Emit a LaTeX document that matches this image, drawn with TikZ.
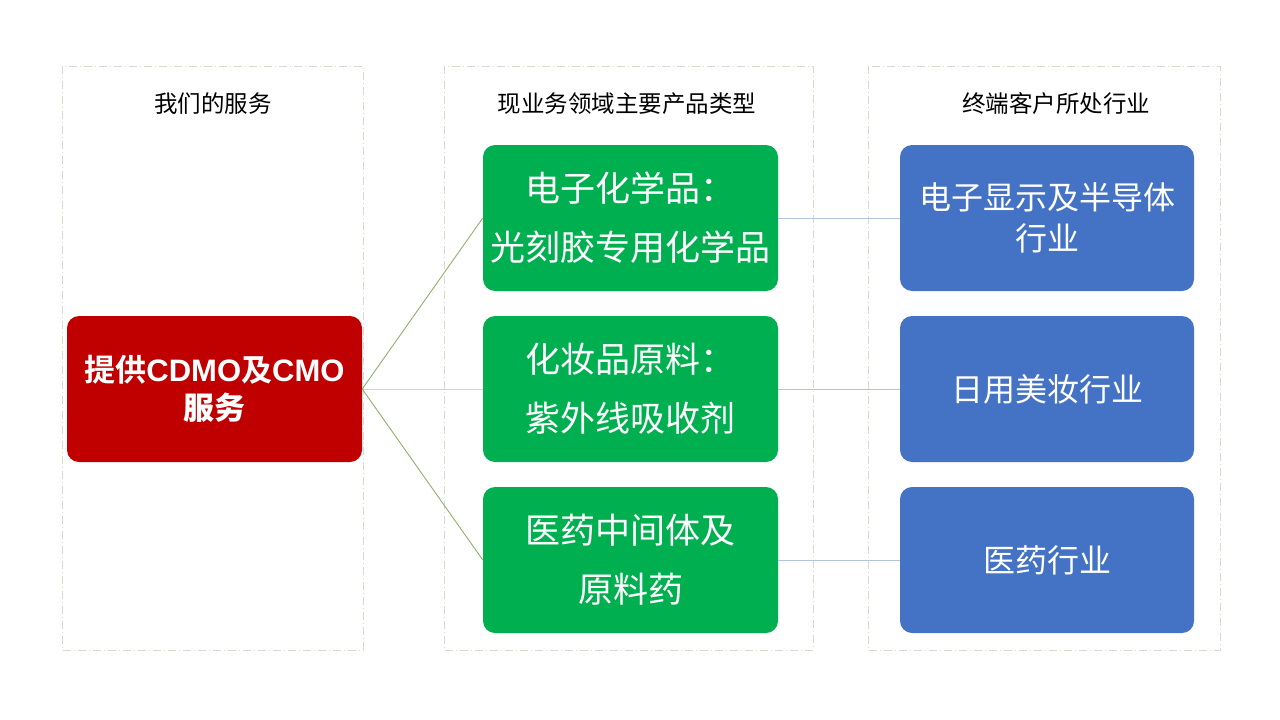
\documentclass[tikz,border=0pt]{standalone}
\usepackage{fontspec}
\setmainfont{Noto Sans CJK SC}
\newfontfamily\cjkbold{Noto Sans CJK SC}[BoldFont={* Bold}]
\newfontfamily\latinb{Liberation Sans}
\definecolor{framec}{HTML}{D5DCC9}
\definecolor{redc}{HTML}{C00000}
\definecolor{greenc}{HTML}{00B050}
\definecolor{bluec}{HTML}{4472C4}
\definecolor{gline}{HTML}{8FB06A}
\definecolor{gpale}{HTML}{C6DEB2}
\definecolor{bline}{HTML}{B4C3E0}
\tikzset{
  frame/.style={draw=framec, line width=0.8pt, dash pattern=on 8pt off 3pt on 1pt off 3pt},
  header/.style={font=\fontsize{23.5}{28}\selectfont, text=black},
  redbox/.style={fill=redc, rounded corners=12pt, minimum width=295pt, minimum height=146pt, inner sep=0pt, text=white, align=center, font=\fontsize{31}{38}\selectfont\bfseries},
  greenbox/.style={fill=greenc, rounded corners=12pt, minimum width=295pt, minimum height=146pt, inner sep=0pt, text=white, align=center, font=\fontsize{35}{59}\selectfont},
  bluebox/.style={fill=bluec, rounded corners=12pt, minimum width=294pt, minimum height=146pt, inner sep=0pt, text=white, align=center, font=\fontsize{32}{41}\selectfont},
  gconn/.style={draw=gline, line width=0.9pt},
  bconn/.style={draw=bline, line width=1pt}
}
\begin{document}
\begin{tikzpicture}[x=1pt,y=-1pt]
\useasboundingbox (0,0) rectangle (1280,720);
% frames
\draw[frame] (62,66) rectangle (363,650);
\draw[frame] (444,66) rectangle (813,650);
\draw[frame] (868,66) rectangle (1220,650);
% headers
\node[header] (h1) at (213,104) {我们的服务};
\node[header] (h2) at (627,104) {现业务领域主要产品类型};
\node[header] (h3) at (1056,104) {终端客户所处行业};
% boxes
\node[redbox] (r) at (214.5,389) {\cjkbold\bfseries 提供{\latinb\bfseries CDMO}及{\latinb\bfseries CMO}\\服务};
\node[greenbox] (g1) at (630.5,218) {电子化学品：\\光刻胶专用化学品};
\node[greenbox] (g2) at (630.5,389) {化妆品原料：\\紫外线吸收剂};
\node[greenbox] (g3) at (630.5,560) {医药中间体及\\原料药};
\node[bluebox] (b1) at (1047,218) {电子显示及半导体\\行业};
\node[bluebox] (b2) at (1047,389) {日用美妆行业};
\node[bluebox] (b3) at (1047,560) {医药行业};
% connectors
\draw[gconn] (r.east) -- (g1.west);
\draw[gconn, draw=gpale] (r.east) -- (g2.west);
\draw[gconn] (r.east) -- (g3.west);
\draw[bconn] (g1.east) -- (b1.west);
\draw[bconn] (g2.east) -- (b2.west);
\draw[bconn] (g3.east) -- (b3.west);
\end{tikzpicture}
\end{document}
